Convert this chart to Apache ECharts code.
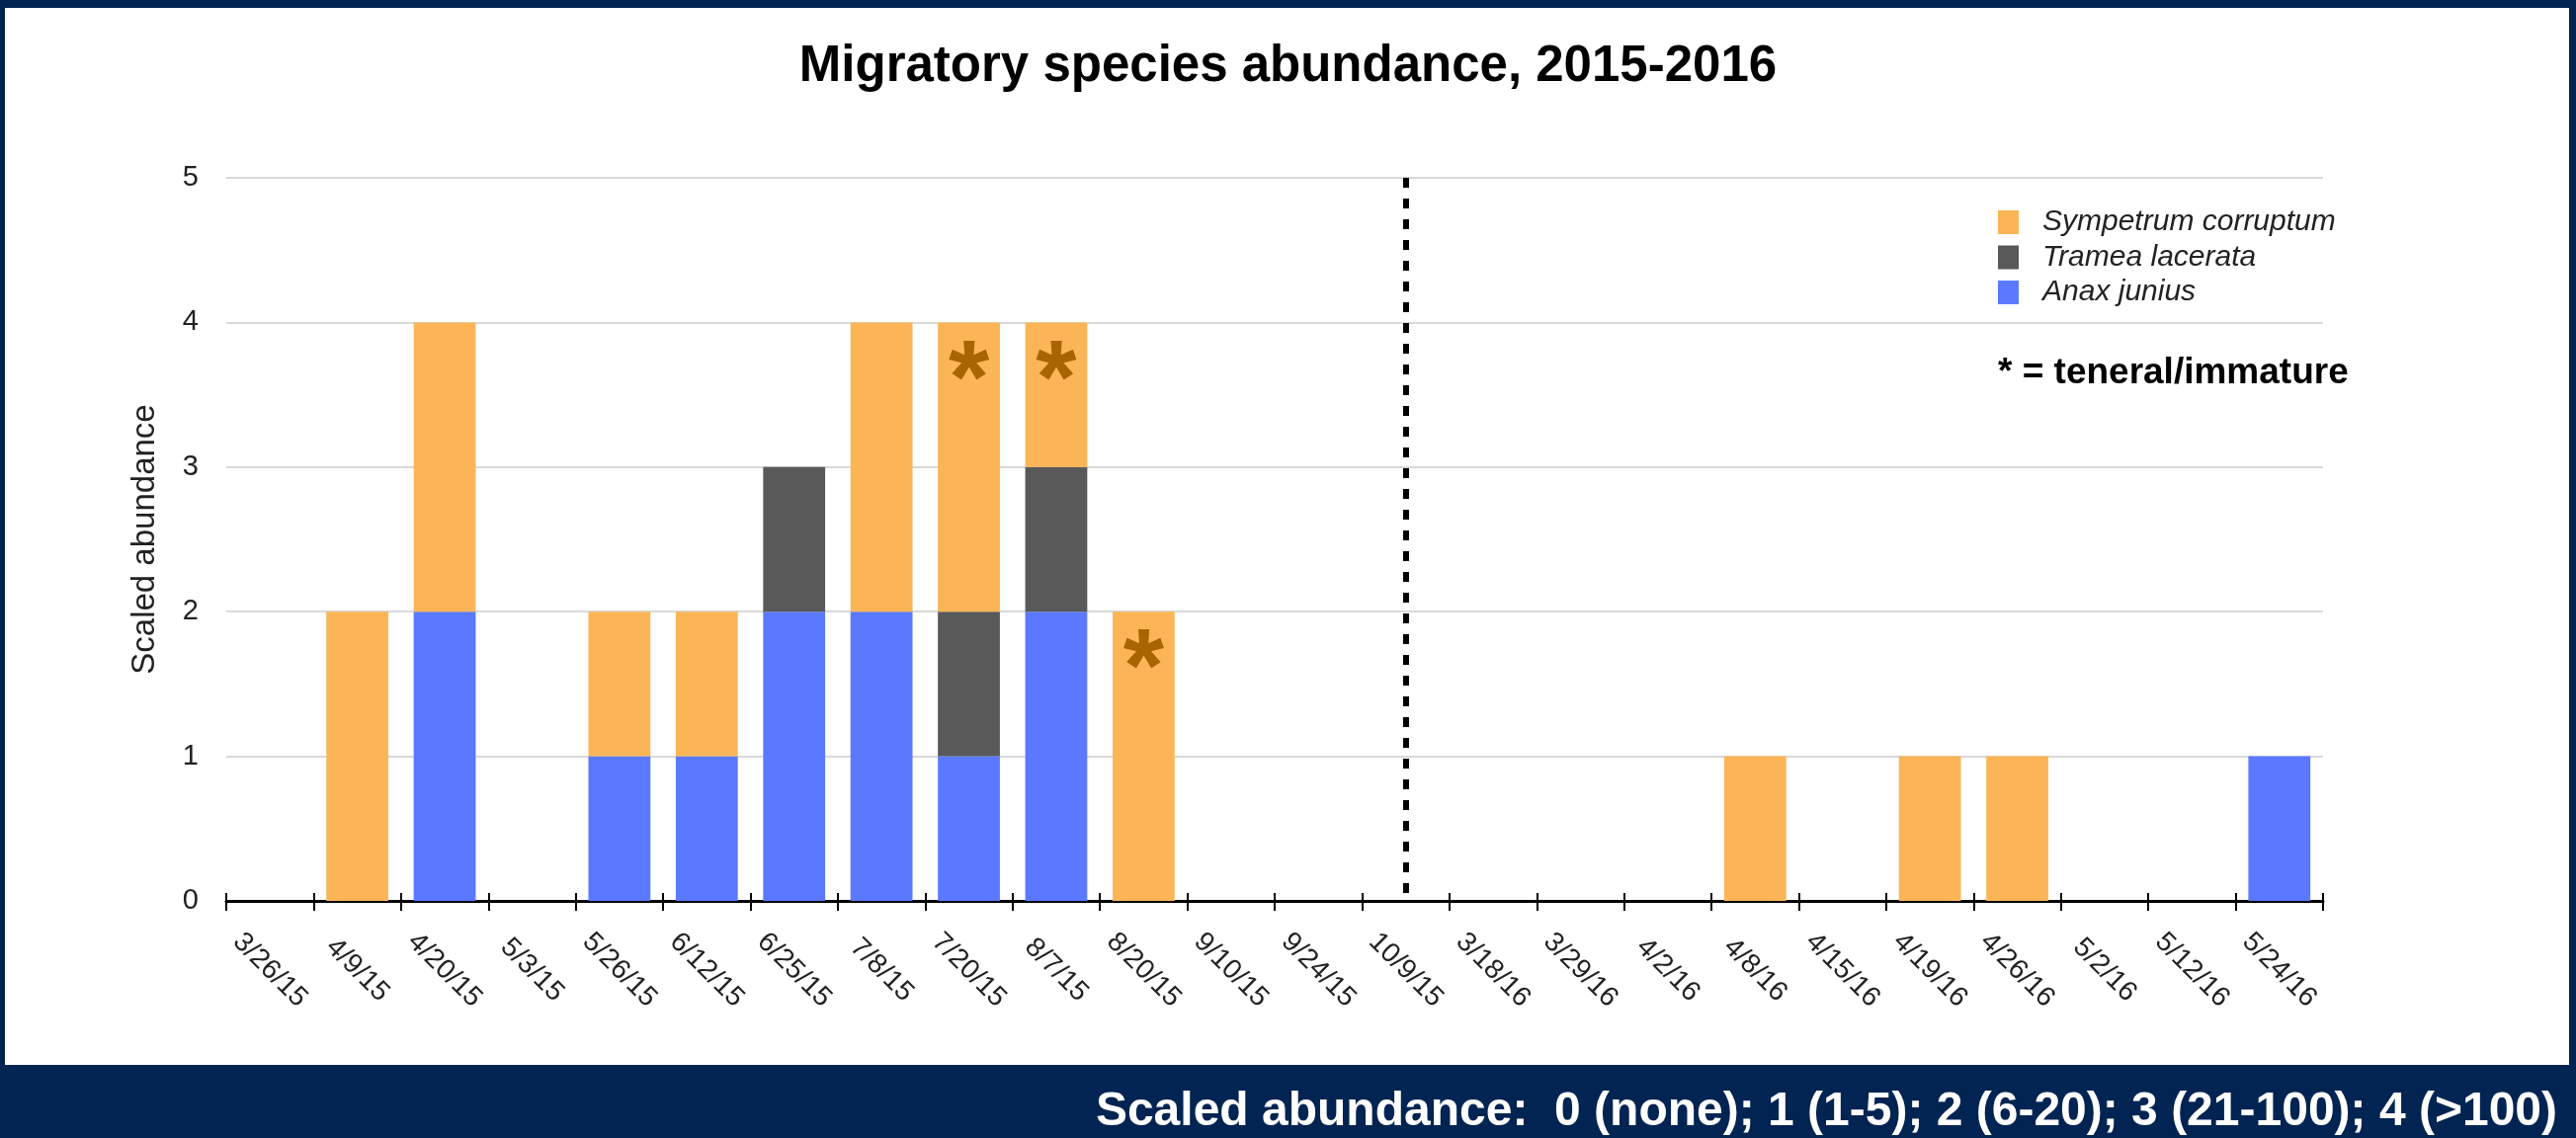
<!DOCTYPE html>
<html>
<head>
<meta charset="utf-8">
<script src="https://cdn.jsdelivr.net/npm/echarts@6/dist/echarts.min.js"></script>
<style>
  html, body { margin: 0; padding: 0; background: #012452; }
  .frame { position: absolute; left: 5px; top: 8px; width: 2595px; height: 1070px; background: #fff; }
  #chart { position: absolute; left: 0; top: 0; width: 2607px; height: 1152px; }
</style>
</head>
<body>
<div class="frame"></div>
<div id="chart"></div>
<script>
// sampling dates
const categories = [
  '3/26/15', '4/9/15', '4/20/15', '5/3/15', '5/26/15', '6/12/15',
  '6/25/15', '7/8/15', '7/20/15', '8/7/15', '8/20/15', '9/10/15',
  '9/24/15', '10/9/15', '3/18/16', '3/29/16', '4/2/16', '4/8/16',
  '4/15/16', '4/19/16', '4/26/16', '5/2/16', '5/12/16', '5/24/16'];

// scaled abundance per species
const anaxJunius = [0, 0, 2, 0, 1, 1, 2, 2, 1, 2, 0, 0, 0, 0, 0, 0, 0, 0, 0, 0, 0, 0, 0, 1];
const trameaLacerata = [0, 0, 0, 0, 0, 0, 1, 0, 1, 1, 0, 0, 0, 0, 0, 0, 0, 0, 0, 0, 0, 0, 0, 0];
const sympetrumCorruptum = [0, 2, 2, 0, 1, 1, 0, 2, 2, 1, 2, 0, 0, 0, 0, 0, 0, 1, 0, 1, 1, 0, 0, 0];

// dates with teneral / immature individuals
const teneralDates = ['7/20/15', '8/7/15', '8/20/15'];
// season divider
const dividerDate = '10/9/15';

const yTicks = [0, 1, 2, 3, 4, 5];

const font = 'Liberation Sans, Arial, sans-serif';
const myChart = echarts.init(document.getElementById('chart'));

const option = {
  animation: false,
  title: {
    text: 'Migratory species abundance, 2015-2016',
    left: 'center',
    top: 37,
    textStyle: { fontFamily: font, fontSize: 51, fontWeight: 'bold', color: '#000' }
  },
  legend: {
    orient: 'vertical',
    left: 2017,
    top: 205,
    itemWidth: 21,
    itemHeight: 24,
    itemGap: 5.5,
    icon: 'rect',
    data: ['Sympetrum corruptum', 'Tramea lacerata', 'Anax junius'],
    textStyle: {
      fontFamily: font, fontSize: 30, fontStyle: 'italic', color: '#222',
      lineHeight: 30, padding: [0, 0, 0, 19]
    }
  },
  grid: { left: 229, right: 256, top: 180, bottom: 240 },
  xAxis: [
    {
      type: 'category',
      data: categories,
      position: 'bottom',
      axisLine: { lineStyle: { color: '#000', width: 3 } },
      axisTick: { show: true, interval: 0, length: 10, lineStyle: { color: '#000', width: 2 } },
      axisLabel: {
        rotate: -45,
        align: 'center',
        verticalAlign: 'middle',
        margin: 70,
        interval: 0,
        fontFamily: font,
        fontSize: 28,
        color: '#222'
      }
    },
    {
      // inner half of the ticks that cross the axis line
      type: 'category',
      data: categories,
      position: 'bottom',
      axisLine: { show: false },
      axisTick: { show: true, interval: 0, inside: true, length: 8, lineStyle: { color: '#000', width: 2 } },
      axisLabel: { show: false }
    }
  ],
  yAxis: {
    type: 'value',
    min: yTicks[0],
    max: yTicks[yTicks.length - 1],
    interval: 1,
    name: 'Scaled abundance',
    nameLocation: 'middle',
    nameRotate: 90,
    nameGap: 66,
    nameTextStyle: { fontFamily: font, fontSize: 33, color: '#222' },
    axisLine: { show: false },
    axisTick: { show: false },
    axisLabel: { margin: 28, fontFamily: font, fontSize: 29, color: '#222' },
    splitLine: { lineStyle: { color: '#cccccc', width: 1.5 } }
  },
  series: [
    {
      name: 'Anax junius',
      type: 'bar',
      stack: 'total',
      barWidth: '71%',
      itemStyle: { color: '#5b79ff' },
      data: anaxJunius,
      markLine: {
        silent: true,
        symbol: 'none',
        label: { show: false },
        lineStyle: { color: '#000', width: 6, type: [10, 11] },
        data: [[{ xAxis: dividerDate, yAxis: yTicks[yTicks.length - 1] }, { xAxis: dividerDate, yAxis: yTicks[0] }]]
      }
    },
    {
      name: 'Tramea lacerata',
      type: 'bar',
      stack: 'total',
      barWidth: '71%',
      itemStyle: { color: '#595959' },
      data: trameaLacerata
    },
    {
      name: 'Sympetrum corruptum',
      type: 'bar',
      stack: 'total',
      barWidth: '71%',
      itemStyle: { color: '#fbb557' },
      label: {
        show: true,
        position: 'insideTop',
        distance: 9,
        fontFamily: font,
        fontSize: 106,
        fontWeight: 'bold',
        color: '#a86400',
        formatter: (p) => teneralDates.includes(p.name) ? '*' : ''
      },
      data: sympetrumCorruptum
    }
  ],
  graphic: [
    {
      type: 'text',
      left: 2022,
      top: 359,
      style: { text: '* = teneral/immature', fontFamily: font, fontSize: 37, fontWeight: 'bold', fill: '#000' }
    },
    {
      type: 'text',
      right: 19,
      top: 1102,
      style: {
        text: 'Scaled abundance:  0 (none); 1 (1-5); 2 (6-20); 3 (21-100); 4 (>100)',
        fontFamily: font, fontSize: 48, fontWeight: 'bold', fill: '#fff'
      }
    }
  ]
};

option && myChart.setOption(option);
</script>
</body>
</html>
